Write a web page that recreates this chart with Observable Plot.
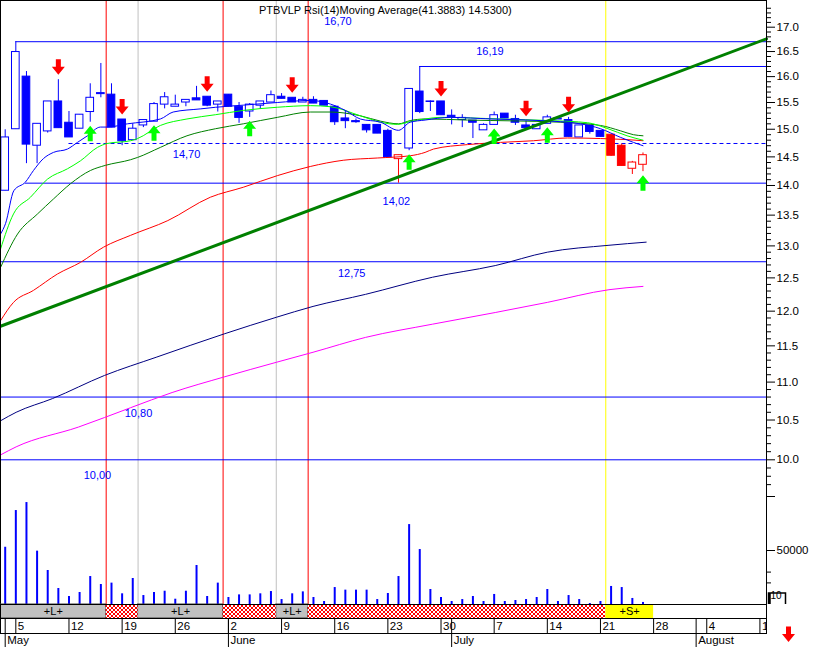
<!DOCTYPE html>
<html><head><meta charset="utf-8">
<script src="https://cdn.jsdelivr.net/npm/d3@7"></script>
<script src="https://cdn.jsdelivr.net/npm/@observablehq/plot@0.6"></script>
<style>
body{margin:0;background:#fff;}
#chart{position:relative;width:813px;height:647px;overflow:hidden;background:#fff;font-family:"Liberation Sans",Arial,sans-serif;}
.ttl{position:absolute;top:4px;font-size:11px;line-height:13px;white-space:nowrap;color:#000;font-family:"Liberation Sans",Arial,sans-serif;}
</style></head><body><div id="chart"></div>
<script>
// ---------------- DATA ----------------
// trading days 0..60 = 2 May .. 25 July
const open  = [13.91,15.00,16.00,14.70,14.96,15.52,15.12,15.01,15.32,15.66,15.65,15.18,14.80,15.07,15.14,15.46,15.42,15.50,15.58,15.61,15.46,15.65,15.42,15.33,15.44,15.50,15.61,15.59,15.50,15.55,15.53,15.42,15.20,15.15,15.08,15.08,14.97,14.46,14.65,15.71,15.52,15.52,15.25,15.17,15.16,14.98,15.08,15.29,15.19,15.07,15.00,15.10,15.18,15.17,14.85,15.07,14.97,14.90,14.70,14.29,14.36];
const high  = [14.99,16.70,16.10,15.10,15.52,15.94,15.33,15.27,15.86,16.26,15.86,15.18,15.10,15.17,15.50,15.69,15.64,15.55,15.81,15.61,15.52,15.65,15.50,15.48,15.52,15.72,15.67,15.59,15.60,15.61,15.53,15.44,15.35,15.19,15.08,15.08,15.00,14.53,15.76,16.20,15.53,15.52,15.36,15.27,15.16,15.10,15.32,15.29,15.26,15.15,15.09,15.26,15.20,15.22,15.07,15.07,14.97,14.90,14.73,14.42,14.57];
const low   = [13.91,15.00,14.38,14.38,14.93,15.02,14.85,15.01,15.13,15.59,15.03,14.70,14.80,15.03,15.14,15.38,15.42,15.42,15.54,15.42,15.32,15.42,15.11,15.22,15.37,15.50,15.57,15.50,15.50,15.48,15.44,15.07,15.01,15.11,14.93,14.92,14.49,14.04,14.61,15.29,15.33,15.26,15.08,15.03,14.83,14.98,15.08,15.20,15.07,15.02,15.00,15.10,15.18,14.86,14.85,14.91,14.86,14.51,14.34,14.19,14.24];
const close = [14.85,16.49,14.72,15.10,15.52,15.02,14.85,15.27,15.59,15.68,15.03,14.78,15.01,15.17,15.47,15.60,15.46,15.55,15.54,15.44,15.52,15.42,15.21,15.46,15.52,15.64,15.57,15.50,15.55,15.48,15.44,15.13,15.15,15.13,14.98,14.92,14.49,14.53,15.76,15.32,15.51,15.26,15.22,15.21,15.12,15.08,15.26,15.20,15.12,15.02,15.08,15.22,15.20,14.86,15.07,14.95,14.86,14.52,14.34,14.40,14.53];
const volume = [53000,87000,94400,49400,31500,14800,7400,11100,25900,18500,19800,9900,24100,8300,11100,12300,4900,12300,36100,7400,19800,6500,8900,8900,9900,12000,4600,9900,11700,6500,2800,15700,13300,13300,13300,4600,10200,25900,74000,50900,13900,6500,2800,4600,7400,2800,9300,2800,3700,4600,6500,13900,2800,8300,4600,900,2800,16700,15700,5600,1900];
const redCandleIdx = [37,57,58,59,60];
const sellSignalIdx = [5,11,19,27,41,49,53];
const buySignalIdx  = [8,14,23,38,46,51,60];

// moving averages (day index, price)
const maBlueAt  = [-0.44,0.03,0.81,1.91,2.66,3.6,4.54,5.86,6.8,7.74,8.96,9.6,11.5,14.6,15.8,18.4,19.8,22.4,25.6,28.7,30.6,32,33.4,35.3,37,38.1,39.5,41.9,45.7,50.4,54.1,56,57.9,59.1,60];
const maBlueVal = [13.19,13.36,13.91,14.06,14.26,14.47,14.58,14.64,14.76,14.88,15.04,15.04,15.10,15.19,15.32,15.38,15.41,15.45,15.50,15.54,15.47,15.35,15.19,15.13,14.98,15.13,15.17,15.22,15.19,15.16,15.10,15.01,14.85,14.76,14.70];
const maLimeAt  = [-0.44,0.78,2.38,3.98,5.86,7.08,8.68,9.6,11.8,12.45,14.6,17.1,19.8,22.4,25.6,28.7,30.6,33.4,35.3,36.9,38.1,39.5,41,46.6,51.3,54.8,56.7,58.5,60];
const maLimeVal = [12.95,13.52,13.80,14.11,14.29,14.43,14.67,14.74,14.79,14.83,15.07,15.19,15.27,15.35,15.41,15.44,15.42,15.25,15.13,15.09,15.14,15.19,15.22,15.19,15.16,15.12,15.01,14.88,14.80];
const maDkGreenAt  = [-0.44,1.16,3.04,4.54,6.14,8.02,9.43,11.8,12.45,14.6,17.1,19.8,22.4,25.6,28.7,30.6,33.4,35.3,37,38.1,39.5,43.5,52.2,56,57.9,59.1,60];
const maDkGreenVal = [12.66,13.19,13.52,13.77,14.03,14.26,14.35,14.45,14.49,14.67,14.88,15.01,15.10,15.22,15.32,15.32,15.25,15.15,15.10,15.16,15.19,15.17,15.13,15.07,14.97,14.90,14.88];
const maRedAt  = [-0.44,0.78,2.66,4.92,7.08,9.25,11.8,15.3,19.3,22.4,25.6,28.7,31.8,35,38.1,39.5,40.3,43.5,46.6,49.7,52.9,56,58.5,60];
const maRedVal = [11.86,12.13,12.31,12.56,12.74,12.98,13.17,13.41,13.80,13.97,14.17,14.33,14.44,14.48,14.52,14.58,14.64,14.72,14.76,14.79,14.84,14.83,14.81,14.79];
const maNavyAt  = [-0.44,1.03,4.45,9.34,14.2,20.6,25.5,28.96,33.9,40.2,46.1,51,56.8,60.3];
const maNavyVal = [10.49,10.60,10.78,11.09,11.34,11.67,11.91,12.07,12.25,12.51,12.69,12.90,13.01,13.06];
const maMagentaAt  = [-0.44,1.03,6.9,11.8,15.7,20.6,25.5,28.96,33.9,40.2,46.1,51,56.8,60];
const maMagentaVal = [10.06,10.16,10.41,10.66,10.86,11.07,11.27,11.41,11.62,11.81,11.98,12.13,12.32,12.37];

// trend line
const trendAt  = [-0.442, 71.62];
const trendVal = [11.78, 16.76];

// horizontal levels
const levelValue = [16.70, 16.20, 14.74, 14.04, 12.75, 10.80, 10.00];
const levelLabel = ["16,70","16,19","14,70","14,02","12,75","10,80","10,00"];
const levelFrom  = [1, 39, 6, 1.9, -0.442, -0.442, -0.442];
const levelDashed = [false,false,true,false,false,false,false];

// vertical event lines (between days)
const redLineAt = [9.5, 20.5, 28.5];
const grayLineAt = [12.5, 25.5];
const yellowLineAt = [56.5];

// signal bands
const bandFrom = [-0.442, 9.5, 12.5, 20.5, 25.5, 28.5, 56.5];
const bandTo   = [9.5, 12.5, 20.5, 25.5, 28.5, 56.5, 61];
const bandKind = ["L","x","L","x","L","x","S"];

// date axis
const dayTickAt = [1,6,11,16,21,26,31,36,41,46,51,56,61,66,71];
const dayTickLabel = ["5","12","19","26","2","9","16","23","30","7","14","21","28","4","11"];
const monthAt = [0,21,42,65];
const monthLabel = ["May","June","July","August"];

// axes
const priceMajor = [10,10.5,11,11.5,12,12.5,13,13.5,14,14.5,15,15.5,16,16.5,17];
const priceMinor = d3.range(97, 175).map(v => v / 10).filter(v => Math.round(v * 10) % 5 !== 0);
const volMajor = [50000, 100000];
const volMinor = [20000, 30000];

// caption
const titleText = "PTBVLP Rsi(14)Moving Average(41.3883) 14.5300)";

// ---------------- LAYOUT ----------------
const W = 813, PANEL_H = 604, MR = 47;
const xDomain = [-0.442, 71.62];
const yPx = [459.3, 26.7];
const bodyHalf = 0.36;
const labelAt = [31.3, 45.6, 17.06, 36.8, 32.6, 12.54, 8.68];
const labelDy = [-20, -15, 11, 18, 12, 16, 16];
const FONT = '"Liberation Sans", Arial, sans-serif';

const candles = open.map((o, k) => ({
  i: k, o, h: high[k], l: low[k], c: close[k],
  col: redCandleIdx.includes(k) ? "#ff0000" : "#0000ff"
}));
const pairs = (at, val) => at.map((a, k) => ({i: a, v: val[k]}));
const levels = levelValue.map((v, k) => ({v, label: levelLabel[k], from: levelFrom[k], dashed: levelDashed[k], at: labelAt[k], dy: labelDy[k]}));
const bands = bandFrom.map((f, k) => ({from: f, to: bandTo[k], kind: bandKind[k]}));
const dayTicks = dayTickAt.map((a, k) => ({i: a, t: dayTickLabel[k]}));
const months = monthAt.map((a, k) => ({i: a, t: monthLabel[k]}));

const arrowDown = {draw(ctx) {
  ctx.moveTo(-2.5,-8); ctx.lineTo(2.5,-8); ctx.lineTo(2.5,-0.5); ctx.lineTo(6.5,-0.5);
  ctx.lineTo(0,7.5); ctx.lineTo(-6.5,-0.5); ctx.lineTo(-2.5,-0.5); ctx.closePath();
}};
const arrowUp = {draw(ctx) {
  ctx.moveTo(-2.5,8); ctx.lineTo(2.5,8); ctx.lineTo(2.5,0.5); ctx.lineTo(6.5,0.5);
  ctx.lineTo(0,-7.5); ctx.lineTo(-6.5,0.5); ctx.lineTo(-2.5,0.5); ctx.closePath();
}};
const boxSym = {draw(ctx) {
  ctx.moveTo(-8.5,5.5); ctx.lineTo(-8.5,-5.5); ctx.lineTo(8.5,-5.5); ctx.lineTo(8.5,5.5);
  ctx.moveTo(-7,5.5); ctx.lineTo(-7,-5.5);
}};

const layerStyle = (top) => ({position: "absolute", left: "0px", top: top + "px", background: "transparent", overflow: "visible", fontFamily: FONT, fontSize: "11px", color: "#000"});
const base = (h, top) => ({width: W, height: h, marginLeft: 0, marginRight: MR, marginTop: 0, marginBottom: 0,
  x: {domain: xDomain, axis: null}, style: layerStyle(top)});

const xMax = xDomain[1];
const lineMark = (at, val, color, w = 1, curve = "monotone-x") => Plot.line(pairs(at, val), {x: "i", y: "v", stroke: color, strokeWidth: w, curve});

// ---------------- PRICE LAYER ----------------
const price = Plot.plot({
  ...base(PANEL_H, 0),
  y: {type: "log", domain: [10, 17], range: yPx},
  marks: [
    Plot.ruleX(grayLineAt, {stroke: "#c0c0c0"}),
    Plot.ruleX(redLineAt, {stroke: "#ff0000"}),
    Plot.ruleX(yellowLineAt, {stroke: "#ffff00"}),
    Plot.ruleY(levels.filter(d => !d.dashed), {y: "v", x1: "from", x2: () => xMax, stroke: "#0000ff"}),
    Plot.ruleY(levels.filter(d => d.dashed), {y: "v", x1: "from", x2: () => xMax, stroke: "#0000ff", strokeDasharray: "4,3"}),
    lineMark(maMagentaAt, maMagentaVal, "#ff00ff"),
    lineMark(maNavyAt, maNavyVal, "#000080"),
    Plot.ruleX(candles, {x: "i", y1: "l", y2: "h", stroke: "col"}),
    Plot.rect(candles, {x1: d => d.i - bodyHalf, x2: d => d.i + bodyHalf, y1: "o", y2: "c",
      fill: d => d.c >= d.o ? "#ffffff" : d.col, stroke: "col"}),
    lineMark(maRedAt, maRedVal, "#ff0000"),
    lineMark(maDkGreenAt, maDkGreenVal, "#008000"),
    lineMark(maLimeAt, maLimeVal, "#00ff00"),
    lineMark(maBlueAt, maBlueVal, "#0000ff"),
    lineMark(trendAt, trendVal, "#008000", 3, "linear"),
    Plot.dot(candles.filter(d => sellSignalIdx.includes(d.i)), {x: "i", y: "h", dy: -12.5, symbol: arrowDown, fill: "#ff0000", stroke: "none"}),
    Plot.dot(candles.filter(d => buySignalIdx.includes(d.i)), {x: "i", y: "l", dy: 11, symbol: arrowUp, fill: "#00ff00", stroke: "none"}),
    ...levels.map(d => Plot.text([d], {x: "at", y: "v", dy: d.dy, text: "label", fill: "#0000ff", fontSize: 11})),
    Plot.axisY(priceMinor, {anchor: "right", tickSize: 4, tickFormat: () => "", label: null}),
    Plot.axisY(priceMajor, {anchor: "right", tickSize: 8, tickPadding: 2, tickFormat: d => d.toFixed(1), fontSize: 11.5, label: null}),
    Plot.frame({stroke: "#000"})
  ]
});

// ---------------- VOLUME LAYER ----------------
const vols = volume.map((v, k) => ({i: k, v}));
const vol = Plot.plot({
  ...base(PANEL_H, 0),
  y: {domain: [0, 100000], range: [604, 496]},
  marks: [
    Plot.ruleX(vols, {x: "i", y1: 0, y2: "v", stroke: "#0000ff", strokeWidth: 2}),
    Plot.axisY(volMinor, {anchor: "right", tickSize: 4, tickFormat: () => "", label: null}),
    Plot.axisY(volMajor, {anchor: "right", tickSize: 8, tickPadding: 2, tickFormat: d => d === 50000 ? "50000" : "", fontSize: 11.5, label: null}),
    Plot.dot([0], {frameAnchor: "bottom-right", dx: 10.5, dy: -6, symbol: boxSym, stroke: "#000", fill: "none"}),
    Plot.text(["10"], {frameAnchor: "bottom-right", dx: 4, dy: -6, textAnchor: "start", fontSize: 10})
  ]
});

// ---------------- BAND ROW ----------------
const bandRow = Plot.plot({
  ...base(14, 604),
  marks: [
    Plot.rect(bands.filter(d => d.kind === "L"), {x1: "from", x2: "to", fill: "#c0c0c0", stroke: "#404040"}),
    Plot.rect(bands.filter(d => d.kind === "x"), {x1: "from", x2: "to", fill: "url(#hatch)"}),
    Plot.rect(bands.filter(d => d.kind === "S"), {x1: "from", x2: "to", fill: "#ffff00"}),
    Plot.text(bands.filter(d => d.kind !== "x"), {x: d => (d.from + d.to) / 2, text: d => "+" + d.kind + "+", fontSize: 11, fill: "#000"}),
    Plot.frame({stroke: "#000"})
  ]
});
d3.select(bandRow).insert("defs", ":first-child").html(
  '<pattern id="hatch" width="4" height="4" patternUnits="userSpaceOnUse">' +
  '<rect width="4" height="4" fill="#ffffff"/>' +
  '<path d="M0,0L4,4M4,0L0,4" stroke="#ff0000" stroke-width="1"/></pattern>');

// ---------------- DATE ROW ----------------
const dateRow = Plot.plot({
  ...base(15, 618),
  marks: [
    Plot.ruleX(dayTicks, {x: "i", stroke: "#000"}),
    Plot.ruleX(months, {x: "i", stroke: "#000"}),
    Plot.text(dayTicks, {x: "i", text: "t", dx: 2, textAnchor: "start", fontSize: 11.5, fill: "#000", clip: true}),
    Plot.frame({stroke: "#000"}),
    Plot.dot([0], {frameAnchor: "bottom-right", dx: 22, dy: 1, symbol: arrowDown, fill: "#ff0000", stroke: "none"})
  ]
});

// ---------------- MONTH ROW ----------------
const monthRow = Plot.plot({
  ...base(14, 633),
  marks: [
    Plot.ruleX(months, {x: "i", stroke: "#000"}),
    Plot.text(months, {x: "i", text: "t", dx: 2, textAnchor: "start", fontSize: 11.5, fill: "#000"})
  ]
});

const chart = document.getElementById("chart");
[price, vol, bandRow, dateRow, monthRow].forEach(s => chart.appendChild(s));

const div = document.createElement("div");
div.className = "ttl";
div.style.left = "259px";
div.textContent = titleText;
chart.appendChild(div);
</script></body></html>
